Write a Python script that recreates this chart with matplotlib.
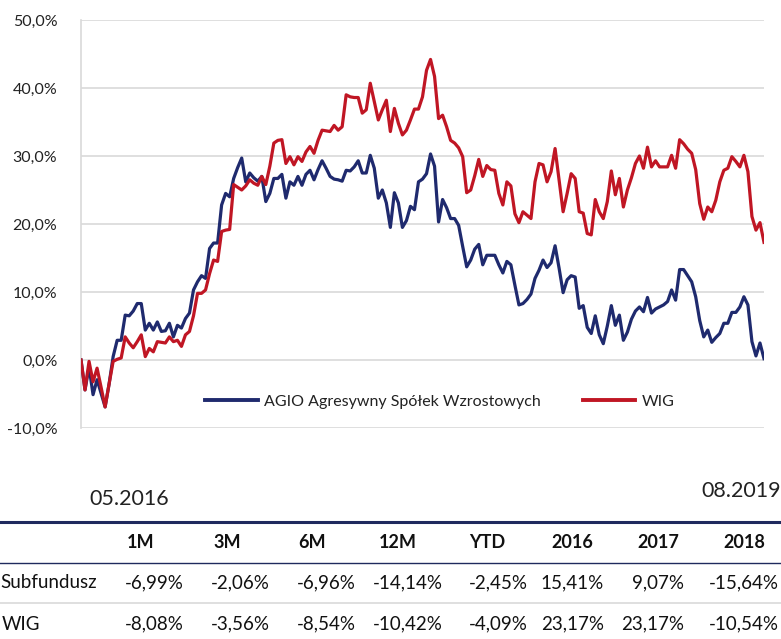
import numpy as np
import matplotlib
matplotlib.use('Agg')
import matplotlib.pyplot as plt
from matplotlib.lines import Line2D

plt.rcParams['font.family'] = ['Lato', 'DejaVu Sans']

W, H = 781, 639

NAVY = '#1f2a6e'
RED = '#c01624'
GRID = '#d9d9d9'

# tygodniowe stopy zwrotu od 05.2016 do 08.2019 (w %)
fundusz = [
	0.0, -4.4, -1.0, -5.1, -2.9, -4.9, -6.9, -3.5, 0.5, 2.9,
	2.9, 6.6, 6.5, 7.2, 8.3, 8.3, 4.4, 5.4, 4.4, 5.6,
	4.2, 4.3, 5.4, 3.4, 5.1, 4.7, 6.1, 6.9, 10.3, 11.5,
	12.4, 12.0, 16.4, 17.2, 17.2, 22.8, 24.5, 24.0, 26.7, 28.3,
	29.7, 26.2, 27.5, 26.8, 26.3, 27.0, 23.3, 24.5, 26.7, 26.7,
	27.3, 23.8, 26.2, 25.7, 27.0, 25.7, 27.3, 27.9, 26.5, 28.0,
	29.3, 28.2, 27.0, 26.6, 26.5, 26.3, 27.9, 27.8, 28.4, 29.3,
	27.5, 27.5, 30.1, 28.2, 23.8, 25.0, 23.1, 19.5, 24.6, 23.1,
	19.5, 20.5, 22.6, 22.1, 26.2, 26.6, 27.4, 30.3, 28.5, 20.3,
	23.6, 22.4, 20.8, 20.8, 19.8, 16.7, 13.7, 14.7, 16.3, 17.0,
	14.0, 15.4, 15.4, 15.4, 14.0, 12.8, 14.5, 14.0, 11.0, 8.1,
	8.3, 8.9, 9.7, 12.0, 13.2, 14.7, 13.6, 14.3, 16.8, 13.5,
	9.9, 11.8, 12.4, 12.2, 7.6, 8.0, 4.8, 3.9, 6.5, 3.7,
	2.4, 5.0, 8.0, 5.1, 6.6, 2.9, 4.1, 6.0, 7.2, 7.8,
	7.1, 9.2, 6.9, 7.5, 7.8, 8.1, 8.6, 10.3, 8.8, 13.3,
	13.3, 12.4, 11.5, 9.3, 5.8, 3.4, 4.4, 2.6, 3.3, 3.9,
	5.4, 5.4, 7.0, 7.0, 7.8, 9.3, 8.1, 2.7, 0.6, 2.5,
	0.2,
]

wig = [
	0.0, -4.4, -0.2, -3.2, -1.2, -4.0, -6.9, -3.5, -0.2, 0.1,
	0.3, 3.4, 2.5, 1.8, 2.7, 3.7, 0.5, 1.7, 1.2, 2.7,
	2.6, 2.5, 3.4, 2.7, 2.9, 2.0, 3.7, 4.2, 6.5, 9.8,
	9.8, 10.3, 12.7, 14.7, 14.5, 18.9, 19.1, 19.2, 25.8, 25.4,
	25.0, 25.6, 26.5, 26.0, 25.7, 27.0, 25.8, 28.5, 31.9, 32.3,
	32.4, 28.9, 29.9, 28.7, 29.9, 29.2, 30.6, 31.4, 30.4, 32.3,
	33.8, 33.7, 33.6, 34.5, 33.8, 34.3, 39.0, 38.7, 38.6, 38.6,
	36.3, 36.8, 40.7, 38.0, 35.3, 36.8, 38.2, 33.6, 37.0, 34.8,
	33.1, 33.8, 35.3, 36.9, 36.9, 38.7, 42.6, 44.2, 41.7, 35.5,
	36.0, 34.3, 32.3, 31.9, 31.2, 29.9, 24.6, 25.0, 27.1, 29.5,
	27.0, 28.6, 28.0, 27.9, 24.5, 22.8, 26.2, 25.6, 21.5, 20.2,
	21.8, 21.3, 20.8, 26.2, 28.9, 28.7, 26.2, 27.7, 31.1, 26.5,
	21.8, 24.5, 27.4, 26.7, 21.8, 21.6, 18.6, 18.4, 23.6, 21.8,
	20.8, 23.3, 27.8, 24.3, 26.7, 22.5, 25.0, 26.8, 28.9, 30.0,
	28.2, 31.3, 28.4, 29.3, 28.4, 28.4, 28.4, 30.1, 28.2, 32.4,
	31.8, 31.0, 30.4, 28.0, 23.0, 20.7, 22.5, 21.8, 23.5, 26.2,
	27.9, 28.2, 29.9, 29.2, 28.4, 30.1, 27.7, 21.1, 19.1, 20.2,
	17.3,
]

nazwy_serii = ['AGIO Agresywny Spółek Wzrostowych', 'WIG']
data_od = '05.2016'
data_do = '08.2019'

y_ticks = [-10, 0, 10, 20, 30, 40, 50]

okresy = ['1M', '3M', '6M', '12M', 'YTD', '2016', '2017', '2018']
wiersze = ['Subfundusz', 'WIG']
stopy_subfundusz = ['-6,99%', '-2,06%', '-6,96%', '-14,14%', '-2,45%', '15,41%', '9,07%', '-15,64%']
stopy_wig = ['-8,08%', '-3,56%', '-8,54%', '-10,42%', '-4,09%', '23,17%', '23,17%', '-10,54%']

def fx(px):
	return px / W

def fy(py):
	return 1 - py / H

fig = plt.figure(figsize=(W / 100, H / 100), dpi=100)

ax = fig.add_axes([fx(81), fy(428), (764 - 81) / W, (428 - 20) / H])
tydzien = np.arange(len(fundusz))
ax.plot(tydzien, fundusz, color=NAVY, lw=2.3, solid_joinstyle='round', zorder=3)
ax.plot(tydzien, wig, color=RED, lw=2.3, solid_joinstyle='round', zorder=3)

ax.set_xlim(0, len(fundusz) - 1)
ax.set_ylim(-10, 50)
ax.set_yticks(y_ticks)
ax.set_yticklabels([('%.1f%%' % v).replace('.', ',') for v in y_ticks], fontsize=11.5, color='#222222')
ax.set_xticks([])
ax.tick_params(axis='y', length=0, pad=17)
ax.grid(axis='y', color=GRID, lw=1.2, zorder=0)
for s in ['top', 'right', 'bottom']:
	ax.spines[s].set_visible(False)
ax.spines['left'].set_color(GRID)
ax.spines['left'].set_linewidth(1.2)

uchwyty = [Line2D([], [], color=NAVY, lw=2.8), Line2D([], [], color=RED, lw=2.8)]
fig.legend(uchwyty, nazwy_serii, loc='center', bbox_to_anchor=(fx(440), fy(402)),
	ncol=2, frameon=False, fontsize=11.5, handlelength=3.3, handletextpad=0.4,
	columnspacing=2.6, labelcolor='#222222')

fig.text(fx(129), fy(499), data_od, fontsize=15.5, ha='center', va='center', color='#222222')
fig.text(fx(781), fy(491), data_do, fontsize=15.5, ha='right', va='center', color='#222222')

# tabela stóp zwrotu
fig.add_artist(Line2D([0, 1], [fy(522), fy(522)], color='#1f2a5e', lw=2.2))
fig.add_artist(Line2D([0, 1], [fy(563), fy(563)], color='#1f2a5e', lw=1.0))
fig.add_artist(Line2D([0, 1], [fy(603), fy(603)], color=GRID, lw=1.2))

srodki_kolumn = [141, 227, 312, 398, 487, 572, 658, 744]
prawe_krawedzie = [184, 270, 356, 443, 528, 604, 684, 779]

for x, okres in zip(srodki_kolumn, okresy):
	fig.text(fx(x), fy(543), okres, fontsize=13, fontweight='bold', ha='center', va='center', color='#111111')

fig.text(fx(0), fy(583), wiersze[0], fontsize=13.5, ha='left', va='center', color='#111111')
fig.text(fx(2), fy(624), wiersze[1], fontsize=13.5, ha='left', va='center', color='#111111')

for x, a, b in zip(prawe_krawedzie, stopy_subfundusz, stopy_wig):
	fig.text(fx(x), fy(583), a, fontsize=13.5, ha='right', va='center', color='#111111')
	fig.text(fx(x), fy(624), b, fontsize=13.5, ha='right', va='center', color='#111111')

plt.savefig('out.png', dpi=100)
